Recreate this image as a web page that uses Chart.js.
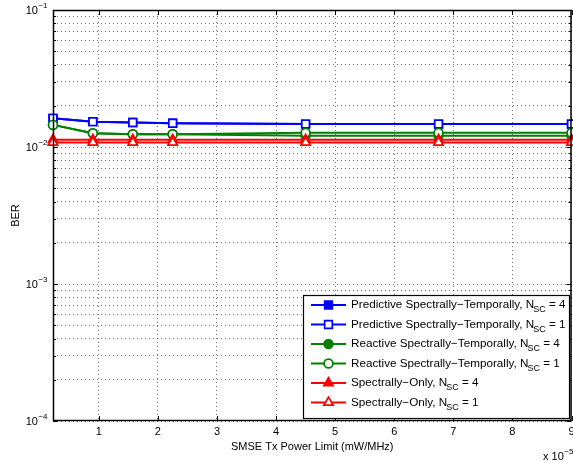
<!DOCTYPE html>
<html>
<head>
<meta charset="utf-8">
<script src="https://cdn.jsdelivr.net/npm/chart.js"></script>
<style>
  html, body { margin: 0; padding: 0; background: #fff; }
</style>
</head>
<body>
<canvas id="ber" width="573" height="461"></canvas>
<script>
// data
const powerLimit = [0.225, 0.9, 1.575, 2.25, 4.5, 6.75, 9];
const predictive4 = [0.0162, 0.0153, 0.0151, 0.0149, 0.0147, 0.0147, 0.0147];
const predictive1 = [0.0162, 0.0153, 0.0151, 0.0149, 0.0147, 0.0147, 0.0147];
const reactive4 = [0.0145, 0.0126, 0.0124, 0.0124, 0.0121, 0.0121, 0.0121];
const reactive1 = [0.0145, 0.0126, 0.0124, 0.0124, 0.0127, 0.0127, 0.0127];
const spectral4 = [0.0113, 0.0113, 0.0113, 0.0113, 0.0113, 0.0113, 0.0113];
const spectral1 = [0.0108, 0.0108, 0.0108, 0.0108, 0.0108, 0.0108, 0.0108];

const xTicks = [1, 2, 3, 4, 5, 6, 7, 8, 9];
const yDecades = [1e-4, 1e-3, 1e-2, 1e-1];
const yExponents = ["\u22124", "\u22123", "\u22122", "\u22121"];
const yMinorSteps = [1, 2, 3, 4, 5, 6, 7, 8, 9];
const legendNames = [
  "Predictive Spectrally\u2212Temporally",
  "Predictive Spectrally\u2212Temporally",
  "Reactive Spectrally\u2212Temporally",
  "Reactive Spectrally\u2212Temporally",
  "Spectrally\u2212Only",
  "Spectrally\u2212Only"
];
const nscValues = [4, 1, 4, 1, 4, 1];

const FONT = '"Liberation Sans", Arial, Helvetica, sans-serif';
const GRID = "rgba(0,0,0,0.55)";
const BLUE = "#0000ff";
const GREEN = "#008000";
const RED = "#ff0000";

// all grid rows: 1..9 x each decade, up to 1e-1
let yGridValues = [];
yDecades.forEach((d, i) => {
  if (i === yDecades.length - 1) { yGridValues.push(d); return; }
  yMinorSteps.forEach((m) => yGridValues.push(m * d));
});

function series(values, color, style, filled, radius, order) {
  return {
    data: values.map((v, i) => ({ x: powerLimit[i], y: v })),
    borderColor: color,
    backgroundColor: color,
    borderWidth: 2,
    pointStyle: style,
    pointRadius: radius,
    pointHoverRadius: radius,
    pointBackgroundColor: filled ? color : "#fff",
    pointBorderColor: color,
    pointBorderWidth: 1.7,
    tension: 0,
    fill: false,
    clip: false,
    order: order,
  };
}

const datasets = [
  series(predictive4, BLUE, "rect", true, 5.4, 5),
  series(predictive1, BLUE, "rect", false, 5.4, 4),
  series(reactive4, GREEN, "circle", true, 4.4, 3),
  series(reactive1, GREEN, "circle", false, 4.4, 2),
  series(spectral4, RED, "triangle", true, 5.4, 1),
  series(spectral1, RED, "triangle", false, 5.4, 0),
];

function drawMarker(ctx, ds, x, y) {
  const r = ds.pointRadius;
  ctx.save();
  ctx.fillStyle = ds.pointBackgroundColor;
  ctx.strokeStyle = ds.pointBorderColor;
  ctx.lineWidth = ds.pointBorderWidth;
  ctx.beginPath();
  if (ds.pointStyle === "rect") {
    const s = Math.SQRT1_2 * r;
    ctx.rect(x - s, y - s, 2 * s, 2 * s);
  } else if (ds.pointStyle === "circle") {
    ctx.arc(x, y, r, 0, Math.PI * 2);
  } else {
    for (let k = 0; k < 3; k++) {
      const a = -Math.PI / 2 + k * (2 * Math.PI / 3);
      const px = x + Math.cos(a) * r, py = y + Math.sin(a) * r;
      if (k === 0) ctx.moveTo(px, py); else ctx.lineTo(px, py);
    }
    ctx.closePath();
  }
  ctx.fill();
  ctx.stroke();
  ctx.restore();
}

// box, inward ticks, legend, y labels with exponents
const matlabLook = {
  id: "matlabLook",
  afterDatasetsDraw(chart) {
    const { ctx, chartArea: a, scales: { x, y } } = chart;
    ctx.save();
    ctx.strokeStyle = "#000";
    ctx.lineWidth = 1;
    ctx.beginPath();
    xTicks.forEach((v) => {
      const px = Math.round(x.getPixelForValue(v)) + 0.5;
      ctx.moveTo(px, a.bottom); ctx.lineTo(px, a.bottom - 5);
      ctx.moveTo(px, a.top); ctx.lineTo(px, a.top + 5);
    });
    yGridValues.forEach((v) => {
      const py = Math.round(y.getPixelForValue(v)) + 0.5;
      const len = yDecades.includes(v) ? 5 : 3;
      ctx.moveTo(a.left, py); ctx.lineTo(a.left + len, py);
      ctx.moveTo(a.right, py); ctx.lineTo(a.right - len, py);
    });
    ctx.stroke();
    ctx.lineWidth = 1.5;
    ctx.strokeRect(a.left + 0.5, a.top + 0.5, a.right - a.left - 1, a.bottom - a.top - 1);

    // legend
    const lx = 303.5, ly = 295.5, lw = 266, lh = 123;
    ctx.fillStyle = "#fff";
    ctx.fillRect(lx, ly, lw, lh);
    ctx.lineWidth = 1.2;
    ctx.strokeRect(lx, ly, lw, lh);
    datasets.forEach((ds, i) => {
      const ry = 305 + i * 19.5;
      ctx.strokeStyle = ds.borderColor;
      ctx.lineWidth = 2;
      ctx.beginPath();
      ctx.moveTo(311, ry); ctx.lineTo(346, ry);
      ctx.stroke();
      drawMarker(ctx, ds, 328.5, ry);
      ctx.fillStyle = "#000";
      ctx.textBaseline = "middle";
      ctx.textAlign = "left";
      ctx.font = "11.7px " + FONT;
      let tx = 351;
      const head = legendNames[i] + ", N";
      ctx.fillText(head, tx, ry);
      tx += ctx.measureText(head).width;
      ctx.font = "9px " + FONT;
      ctx.fillText("SC", tx - 1, ry + 5);
      tx += ctx.measureText("SC").width - 1;
      ctx.font = "11.7px " + FONT;
      ctx.fillText(" = " + nscValues[i], tx, ry);
    });
    ctx.restore();
  },
  afterDraw(chart) {
    const { ctx, scales: { y } } = chart;
    ctx.save();
    ctx.fillStyle = "#000";
    ctx.textBaseline = "middle";
    yDecades.forEach((d, i) => {
      const py = y.getPixelForValue(d);
      ctx.font = "8px " + FONT;
      ctx.textAlign = "right";
      ctx.fillText(yExponents[i], 47.5, py - 4);
      const supW = ctx.measureText(yExponents[i]).width;
      ctx.font = "11px " + FONT;
      ctx.fillText("10", 47.5 - supW - 0.5, py + 0.5);
    });
    // axis multiplier, cut by the right edge as in the figure
    ctx.textAlign = "left";
    ctx.font = "11px " + FONT;
    ctx.fillText("x 10", 543, 457);
    const w = ctx.measureText("x 10").width;
    ctx.font = "8px " + FONT;
    ctx.fillText("\u22125", 543 + w + 0.5, 452);
    ctx.restore();
  },
};

Chart.defaults.font.family = FONT;
Chart.defaults.color = "#000";

new Chart(document.getElementById("ber"), {
  type: "line",
  data: { datasets: datasets },
  plugins: [matlabLook],
  options: {
    responsive: false,
    animation: false,
    devicePixelRatio: 1,
    layout: { autoPadding: false, padding: { left: 0, top: 10, right: 1.5, bottom: 0 } },
    plugins: { legend: { display: false }, tooltip: { enabled: false } },
    scales: {
      x: {
        type: "linear",
        min: 0.225,
        max: 9,
        afterBuildTicks: (s) => { s.ticks = xTicks.map((v) => ({ value: v })); },
        afterFit: (s) => {
          s.height = 40;
          s.paddingLeft = 0;
          s.paddingRight = 0;
        },
        grid: { color: GRID, lineWidth: 1, drawTicks: false },
        border: { display: false, dash: [1, 3] },
        ticks: { font: { size: 11 }, padding: 4, color: "#000", maxRotation: 0, autoSkip: false },
        title: {
          display: true,
          text: "SMSE Tx Power Limit (mW/MHz)",
          font: { size: 11 },
          color: "#000",
          padding: { top: 0, bottom: 7 },
        },
      },
      y: {
        type: "logarithmic",
        min: 1e-4,
        max: 1e-1,
        afterBuildTicks: (s) => { s.ticks = yGridValues.map((v) => ({ value: v })); },
        afterFit: (s) => {
          s.width = 53;
          s.paddingTop = 0;
          s.paddingBottom = 0;
        },
        grid: { color: GRID, lineWidth: 1, drawTicks: false },
        border: { display: false, dash: [1, 3] },
        ticks: { display: false },
        title: {
          display: true,
          text: "BER",
          font: { size: 11 },
          color: "#000",
          padding: { top: 9.5, bottom: 0 },
        },
      },
    },
  },
});
</script>
</body>
</html>
